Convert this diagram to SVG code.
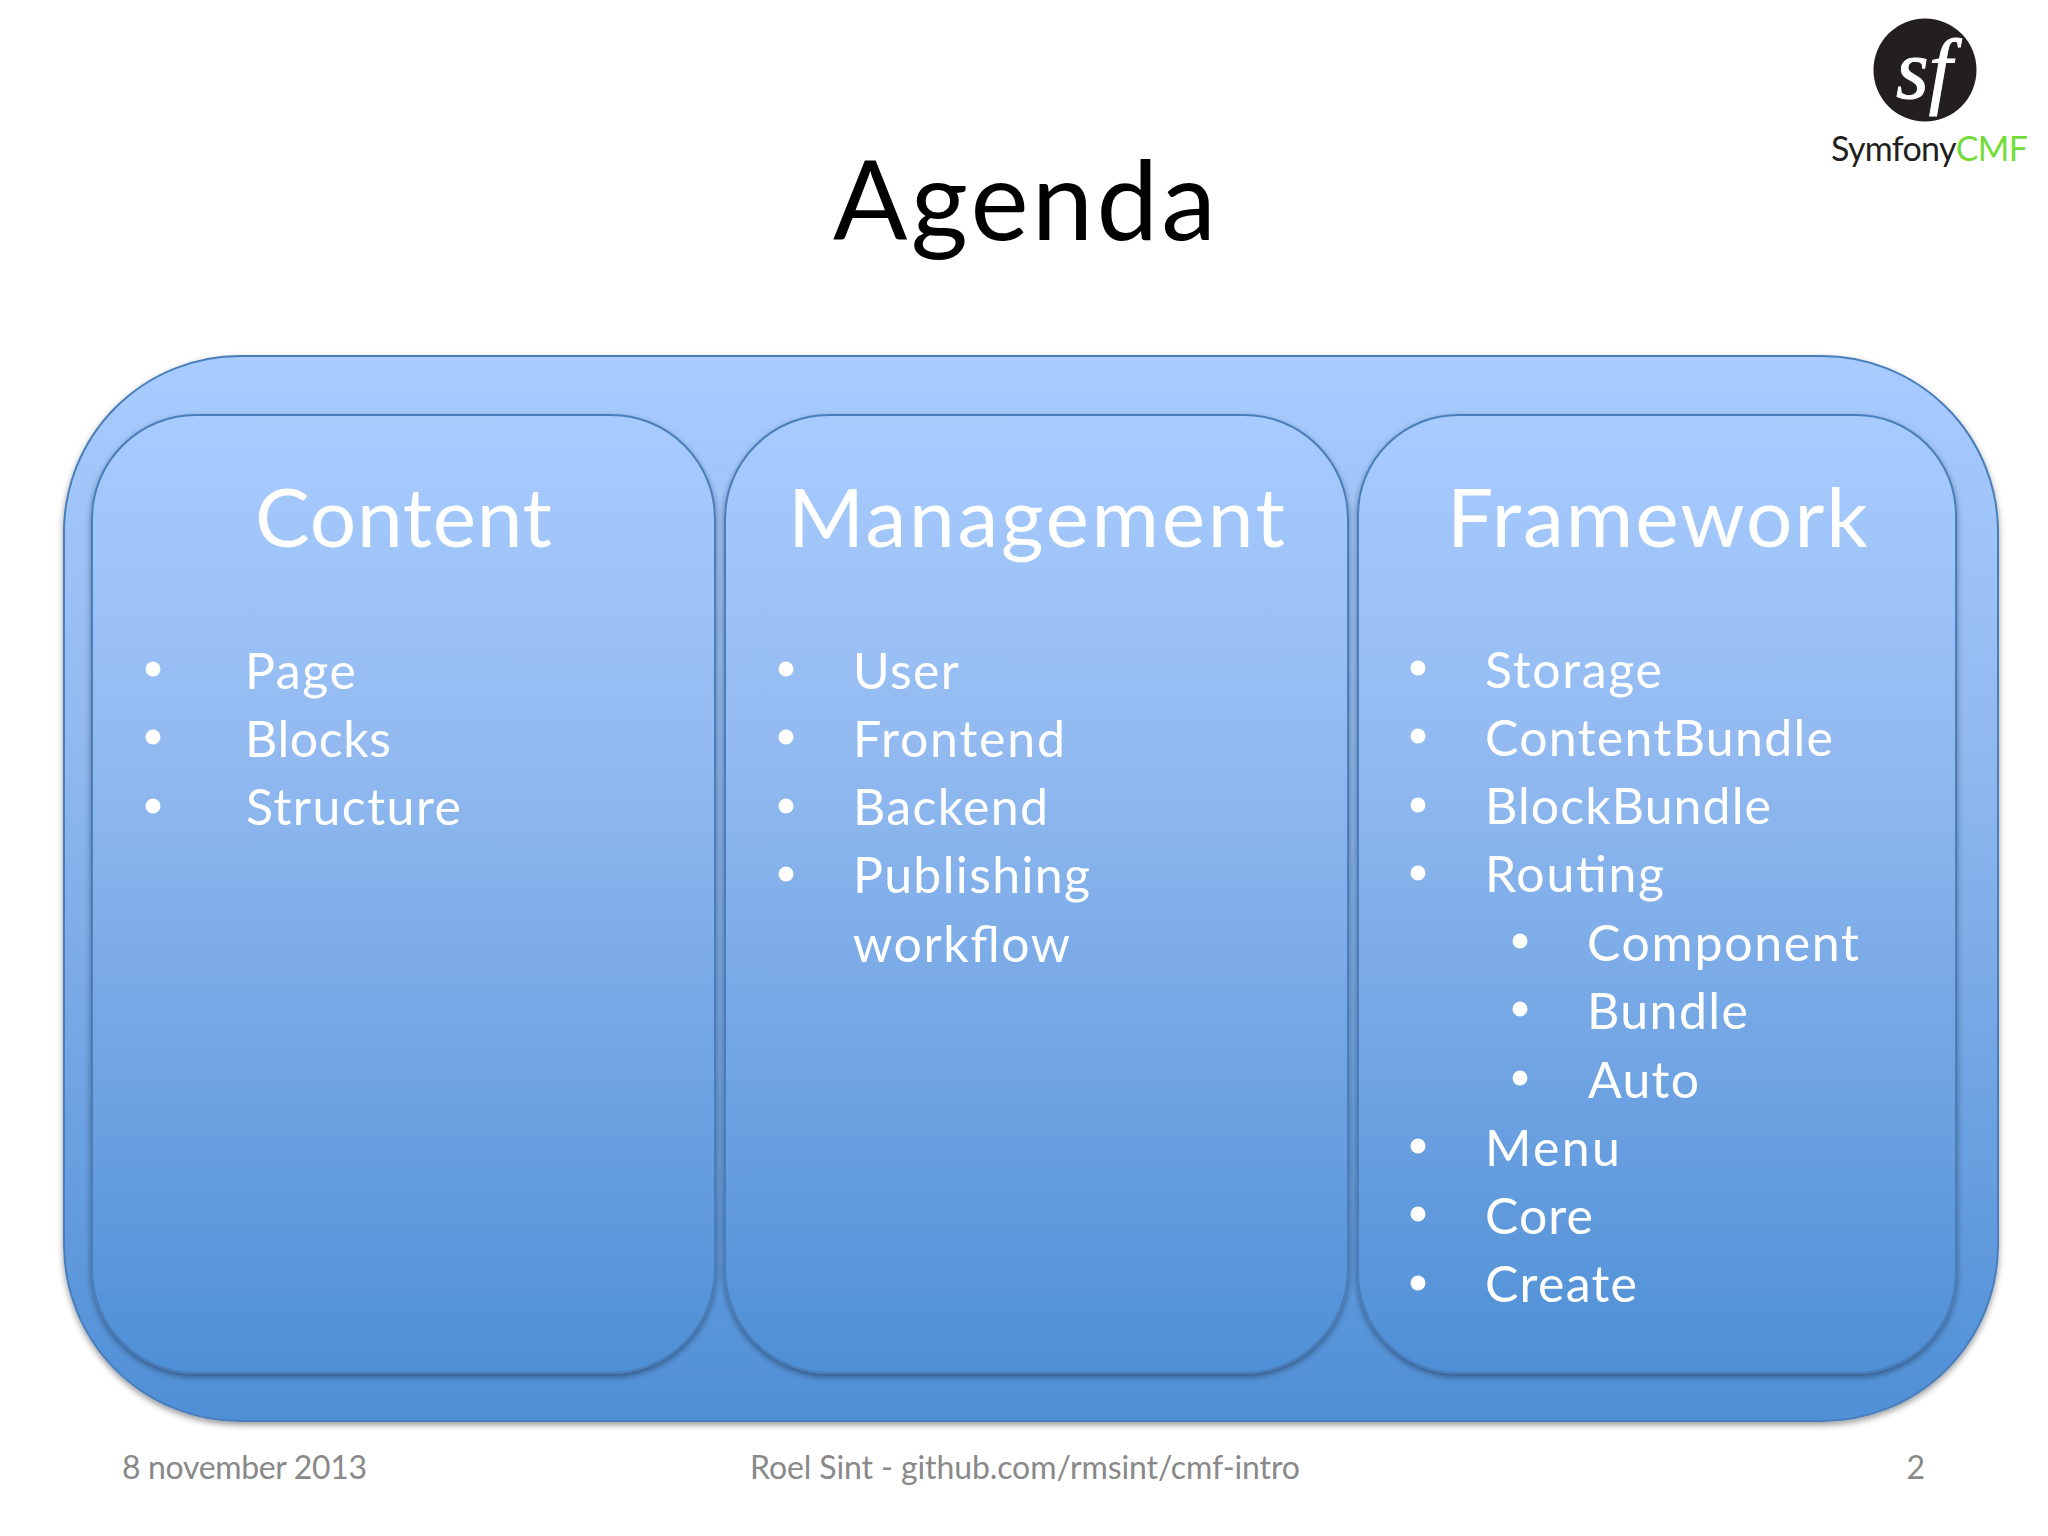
<svg xmlns="http://www.w3.org/2000/svg" width="2048" height="1536" viewBox="0 0 2048 1536">
<style>
text{font-family:"Lato","Carlito","Liberation Sans",sans-serif;font-variant-ligatures:common-ligatures}
.h{font-size:82px;fill:#fff}
.li{font-size:50px;fill:#fff}
.ft{font-size:32px;fill:#898989}
.b{fill:#fff}
.box{stroke:#4a7ebb;stroke-width:2}
</style>
<defs>
<linearGradient id="g" x1="0" y1="0" x2="0" y2="1"><stop offset="0" stop-color="#a9ccff"/><stop offset=".35" stop-color="#92baf0"/><stop offset="1" stop-color="#4f8fd6"/></linearGradient>
<filter id="s" x="-5%" y="-5%" width="110%" height="110%"><feDropShadow dx="0" dy="3" stdDeviation="3" flood-color="#000" flood-opacity=".4"/></filter>
</defs>
<rect width="2048" height="1536" fill="#fff"/>
<text id="title" x="833" y="240" font-size="110" textLength="383" lengthAdjust="spacing" fill="#000">Agenda</text>
<g id="logo">
<circle cx="1925" cy="70" r="51.5" fill="#231f20"/>
<text x="1924" y="98" font-size="84" font-style="italic" text-anchor="middle" fill="#fff" stroke="#fff" stroke-width="1" style="font-family:'Liberation Serif',serif">sf</text>
<text x="1831" y="161" font-size="34" textLength="197" lengthAdjust="spacing" fill="#231f20">Symfony<tspan fill="#74dc3a">CMF</tspan></text>
</g>
<g id="outer"><rect class="box" x="64" y="356" width="1934" height="1065" rx="176" fill="url(#g)" filter="url(#s)"/></g>
<g id="content">
<rect class="box" x="92" y="415" width="623" height="958" rx="104" fill="url(#g)" filter="url(#s)"/>
<text class="h" x="255" y="547" textLength="297" lengthAdjust="spacing">Content</text>
<circle class="b" cx="153" cy="669" r="7.5"/><text class="li" x="245" y="689" textLength="111" lengthAdjust="spacing">Page</text>
<circle class="b" cx="153" cy="737" r="7.5"/><text class="li" x="245" y="757" textLength="146" lengthAdjust="spacing">Blocks</text>
<circle class="b" cx="153" cy="806" r="7.5"/><text class="li" x="246" y="825" textLength="215" lengthAdjust="spacing">Structure</text>
</g>
<g id="management">
<rect class="box" x="725" y="415" width="623" height="958" rx="104" fill="url(#g)" filter="url(#s)"/>
<text class="h" x="788" y="547" textLength="497" lengthAdjust="spacing">Management</text>
<circle class="b" cx="786" cy="669" r="7.5"/><text class="li" x="853" y="689" textLength="106" lengthAdjust="spacing">User</text>
<circle class="b" cx="786" cy="737" r="7.5"/><text class="li" x="853" y="757" textLength="212" lengthAdjust="spacing">Frontend</text>
<circle class="b" cx="786" cy="806" r="7.5"/><text class="li" x="853" y="825" textLength="195" lengthAdjust="spacing">Backend</text>
<circle class="b" cx="786" cy="874" r="7.5"/><text class="li" x="853" y="893" textLength="237" lengthAdjust="spacing">Publishing</text>
<text class="li" x="853" y="962" textLength="217" lengthAdjust="spacing">workflow</text>
</g>
<g id="framework">
<rect class="box" x="1358" y="415" width="598" height="958" rx="100" fill="url(#g)" filter="url(#s)"/>
<text class="h" x="1447" y="547" textLength="421" lengthAdjust="spacing">Framework</text>
<circle class="b" cx="1418" cy="668" r="7.5"/><text class="li" x="1485" y="688" textLength="177" lengthAdjust="spacing">Storage</text>
<circle class="b" cx="1418" cy="736" r="7.5"/><text class="li" x="1485" y="756" textLength="348" lengthAdjust="spacing">ContentBundle</text>
<circle class="b" cx="1418" cy="805" r="7.5"/><text class="li" x="1485" y="824" textLength="286" lengthAdjust="spacing">BlockBundle</text>
<circle class="b" cx="1418" cy="873" r="7.5"/><text class="li" x="1485" y="892" textLength="179" lengthAdjust="spacing">Routing</text>
<circle class="b" cx="1520" cy="941" r="7.5"/><text class="li" x="1587" y="961" textLength="272" lengthAdjust="spacing">Component</text>
<circle class="b" cx="1520" cy="1009" r="7.5"/><text class="li" x="1587" y="1029" textLength="161" lengthAdjust="spacing">Bundle</text>
<circle class="b" cx="1520" cy="1078" r="7.5"/><text class="li" x="1588" y="1098" textLength="111" lengthAdjust="spacing">Auto</text>
<circle class="b" cx="1418" cy="1146" r="7.5"/><text class="li" x="1485" y="1166" textLength="135" lengthAdjust="spacing">Menu</text>
<circle class="b" cx="1418" cy="1214" r="7.5"/><text class="li" x="1485" y="1234" textLength="108" lengthAdjust="spacing">Core</text>
<circle class="b" cx="1418" cy="1283" r="7.5"/><text class="li" x="1485" y="1302" textLength="152" lengthAdjust="spacing">Create</text>
</g>
<g id="footer">
<text class="ft" x="122" y="1479" textLength="245" lengthAdjust="spacing">8 november 2013</text>
<text class="ft" x="750" y="1479" textLength="550" lengthAdjust="spacing">Roel Sint - github.com/rmsint/cmf-intro</text>
<text class="ft" x="1925" y="1479" text-anchor="end">2</text>
</g>
</svg>
